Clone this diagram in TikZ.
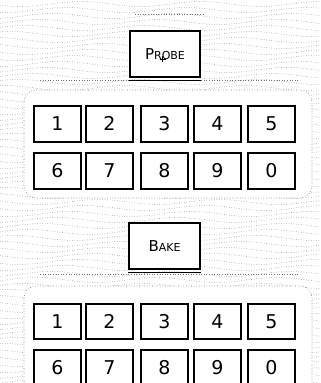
\documentclass[tikz,border=0pt]{standalone}
\usepackage{fontspec}
\setmainfont{DejaVu Sans}
\begin{document}
\begin{tikzpicture}[x=1pt,y=-1pt,
  keybox/.style={draw=black, line width=2.4pt, fill=white, minimum width=46.5pt, minimum height=35.5pt, inner sep=0pt, text height=13.7pt, text depth=0pt, font=\fontsize{19}{19}\selectfont},
  bigbox/.style={draw=black, line width=2.4pt, fill=white, minimum width=70.5pt, minimum height=45.5pt, inner sep=0pt},
  stip/.style={black!55, dotted, line width=0.5pt},
  panel/.style={fill=white, draw=black!55, dotted, line width=0.6pt, rounded corners=12pt},
  sep/.style={black!55, dotted, line width=0.6pt}]
\useasboundingbox (0,0) rectangle (321,383);
% stippled background
\foreach \yy in {4,10,...,383} {
  \draw[stip] plot[domain=0:321, samples=60, smooth] (\x, {\yy + 2.5*sin(\x*3 + \yy*7)});
}
% panels
\draw[panel] (24,90) rectangle (312,198);
\draw[panel] (24,286) rectangle (312,400);
\draw[sep] (135,14) -- (205,14);
\draw[sep] (40,80) -- (300,80);
\draw[sep] (40,274) -- (300,274);
% big buttons
\node[bigbox] (probe) at (165,54) {\fontsize{15}{15}\selectfont P\fontsize{11}{11}\selectfont ROBE};
\draw[black, line width=1.4pt] ([yshift=-2.8pt]probe.south west) -- ([yshift=-2.8pt]probe.south east);
\coordinate (crossc) at (162.5,59);
\draw[black, line width=1pt] ([xshift=-3pt]crossc) -- ([xshift=3pt]crossc) ([yshift=-3pt]crossc) -- ([yshift=3pt]crossc);
\node[bigbox] (bake) at (164.5,246) {\fontsize{15}{15}\selectfont B\fontsize{11}{11}\selectfont AKE};
\draw[black, line width=1.4pt] ([yshift=-2.8pt]bake.south west) -- ([yshift=-2.8pt]bake.south east);
% keypads
\foreach \lab/\xx/\yy/\nm in {1/57.5/124/a1,2/109.5/124/a2,3/164.5/124/a3,4/217.5/124/a4,5/271.5/124/a5,
                         6/57.5/171/a6,7/109.5/171/a7,8/164.5/171/a8,9/217.5/171/a9,0/271.5/171/a0,
                         1/57.5/321.5/b1,2/109.5/321.5/b2,3/164.5/321.5/b3,4/217.5/321.5/b4,5/271.5/321.5/b5,
                         6/57.5/367.5/b6,7/109.5/367.5/b7,8/164.5/367.5/b8,9/217.5/367.5/b9,0/271.5/367.5/b0} {
  \node[keybox] (\nm) at (\xx,\yy) {\lab};
}
\end{tikzpicture}
\end{document}
